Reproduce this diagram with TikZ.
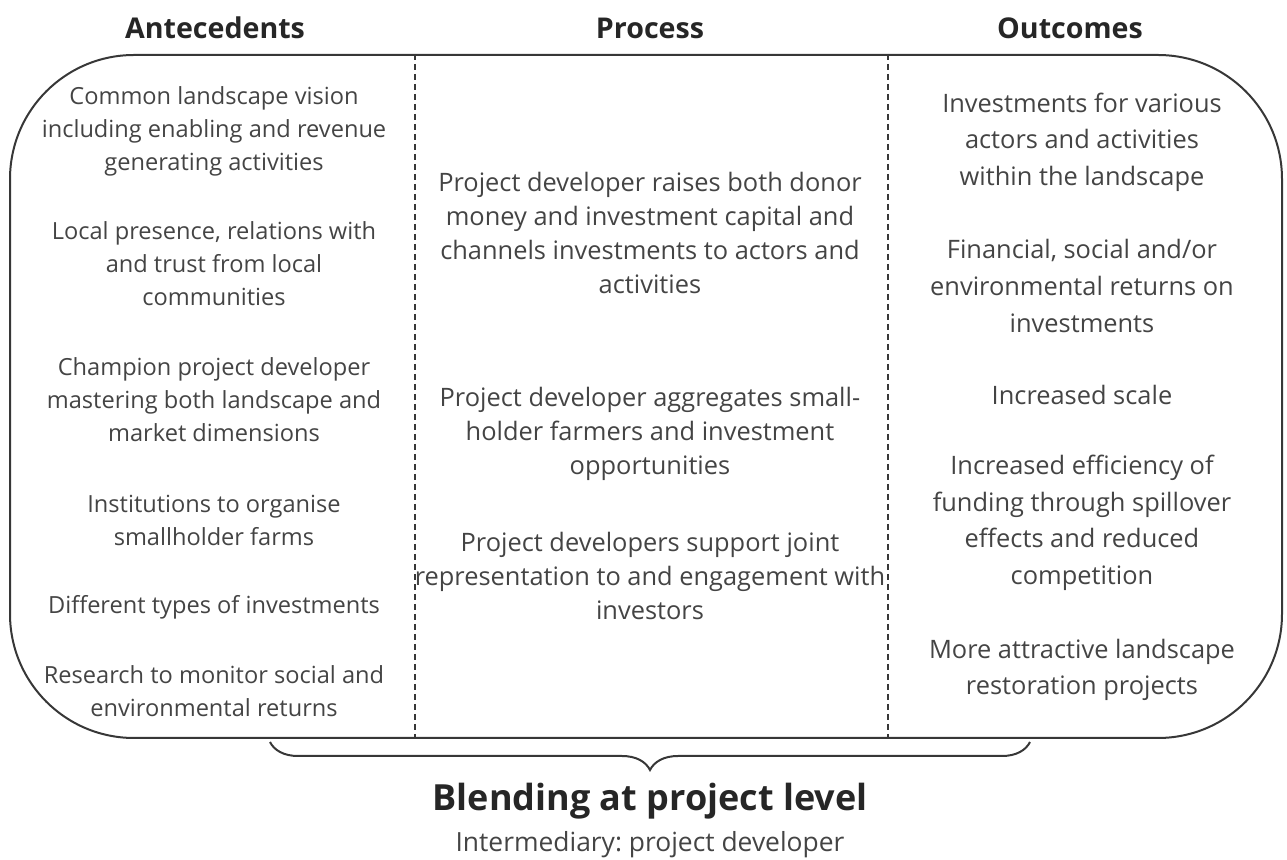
\documentclass[tikz,border=0pt]{standalone}
\usepackage{fontspec}
\setmainfont{Open Sans}
\usepackage{tikz}
\usetikzlibrary{positioning, decorations.pathreplacing, calc}
\definecolor{bodygray}{RGB}{68,68,68}
\definecolor{framegray}{RGB}{55,55,55}
\tikzset{
    colhead/.style={font=\bfseries\fontsize{14.3}{16}\selectfont, text=black!85, inner sep=0pt},
    coltext/.style={align=center, text=bodygray, font=\fontsize{11.8}{16.5}\selectfont, inner sep=0pt},
    proctext/.style={coltext, font=\fontsize{12.7}{17}\selectfont},
    outtext/.style={coltext, font=\fontsize{12.7}{18.3}\selectfont},
    panelbox/.style={draw=framegray, line width=1pt, rounded corners=62pt, inner sep=0pt},
    coldivider/.style={draw=framegray, densely dashed, line width=0.6pt},
    levelbrace/.style={draw=framegray, line width=1pt, decorate, decoration={brace, mirror, amplitude=14pt}},
    leveltitle/.style={font=\bfseries\fontsize{18}{20}\selectfont, text=black!85, inner sep=0pt},
    levelsub/.style={font=\fontsize{13.2}{15}\selectfont, text=bodygray, inner sep=0pt}
}

\begin{document}
\frenchspacing
\begin{tikzpicture}[x=0.5pt, y=-0.5pt]
\useasboundingbox (0,0) rectangle (1287,860);

% frame and column dividers
\node[panelbox, minimum width=636pt, minimum height=341.5pt] (panel) at (646,396.5) {};
\coordinate (divA) at (415,396.5);
\coordinate (divB) at (888,396.5);
\draw[coldivider] (divA |- panel.north) -- (divA |- panel.south);
\draw[coldivider] (divB |- panel.north) -- (divB |- panel.south);

% column headings
\node[colhead] (hAnte) at (215,28) {Antecedents};
\node[colhead] (hProc) at (650,28) {Process};
\node[colhead] (hOut) at (1070,28) {Outcomes};

% antecedents
\node[coltext] (a1) at (214,131) {Common landscape vision\\including enabling and revenue\\generating activities};
\node[coltext] (a2) at (214,264) {Local presence, relations with\\and trust from local\\communities};
\node[coltext] (a3) at (214,400) {Champion project developer\\mastering both landscape and\\market dimensions};
\node[coltext] (a4) at (214,520) {Institutions to organise\\smallholder farms};
\node[coltext] (a5) at (214,607) {Different types of investments};
\node[coltext] (a6) at (214,691) {Research to monitor social and\\environmental returns};

% process
\node[proctext] (p1) at (650,233) {Project developer raises both donor\\money and investment capital and\\channels investments to actors and\\activities};
\node[proctext] (p2) at (650,434) {Project developer aggregates small-\\holder farmers and investment\\opportunities};
\node[proctext] (p3) at (650,576) {Project developers support joint\\representation to and engagement with\\investors};

% outcomes
\node[outtext] (o1) at (1082,142) {Investments for various\\actors and activities\\within the landscape};
\node[outtext] (o2) at (1082,286) {Financial, social and/or\\environmental returns on\\investments};
\node[outtext] (o3) at (1082,395) {Increased scale};
\node[outtext] (o4) at (1082,523) {Increased efficiency of\\funding through spillover\\effects and reduced\\competition};
\node[outtext] (o5) at (1082,670) {More attractive landscape\\restoration projects};

% brace and level label
\coordinate (braceL) at (270,742);
\coordinate (braceR) at (1030,742);
\draw[levelbrace] (braceL) -- (braceR);
\node[leveltitle] (title) at (650,801) {Blending at project level};
\node[levelsub, below=6pt of title] (sub) {Intermediary: project developer};

\end{tikzpicture}
\end{document}
